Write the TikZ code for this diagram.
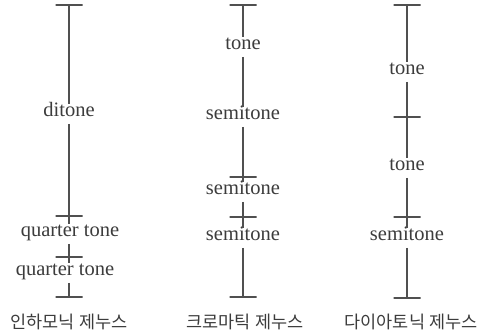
\documentclass[tikz,border=0pt]{standalone}
\usepackage{fontspec}
\setmainfont{Liberation Serif}
\newfontfamily\kofont{Noto Sans CJK KR}
\definecolor{linegray}{HTML}{505050}
\definecolor{textgray}{HTML}{3C3C3C}
\begin{document}
\begin{tikzpicture}[x=1pt,y=-1pt,
  tickmark/.style={draw=linegray,line width=2.2pt,rectangle,minimum width=27pt,minimum height=0pt,inner sep=0pt,outer sep=0pt},
  lab/.style={text=textgray,font=\fontsize{20.5}{20.5}\selectfont,inner sep=0pt,outer ysep=3pt,text height=9.5pt,text depth=4pt},
  genus/.style={text=textgray,font=\kofont\fontsize{17.5}{17.5}\selectfont,inner sep=0pt},
  seg/.style={draw=linegray,line width=2.2pt}]
\useasboundingbox (0,0) rectangle (485,333);
% enharmonic
\node[tickmark] (a0) at (69,5) {};
\node[tickmark] (a1) at (69,216) {};
\node[tickmark] (a2) at (69,257) {};
\node[tickmark] (a3) at (69,297) {};
\node[lab] (la1) at (69,114) {ditone};
\node[lab] (la2) at (70,234) {quarter tone};
\node[lab] (la3) at (65,273) {quarter tone};
\draw[seg] (a0) -- (a0 |- la1.north) (a1 |- la1.south) -- (a1);
\draw[seg] (a1) -- (a1 |- la2.north) (a2 |- la2.south) -- (a2);
\draw[seg] (a2) -- (a2 |- la3.north) (a3 |- la3.south) -- (a3);
\node[genus] (ga) at (69,322) {인하모닉 제누스};
% chromatic
\node[tickmark] (b0) at (243,5) {};
\node[tickmark] (b1) at (243,177) {};
\node[tickmark] (b2) at (243,217) {};
\node[tickmark] (b3) at (243,297) {};
\node[lab] (lb0) at (243,47) {tone};
\node[lab] (lb1) at (243,117) {semitone};
\node[lab] (lb2) at (243,192) {semitone};
\node[lab] (lb3) at (243,238) {semitone};
\draw[seg] (b0) -- (lb0.north) (lb0.south) -- (lb1.north) (lb1.south) -- (b1);
\draw[seg] (b1) -- (lb2.north) (lb2.south) -- (b2);
\draw[seg] (b2) -- (lb3.north) (lb3.south) -- (b3);
\node[genus] (gb) at (245,322) {크로마틱 제누스};
% diatonic
\node[tickmark] (c0) at (407,5) {};
\node[tickmark] (c1) at (407,117) {};
\node[tickmark] (c2) at (407,217) {};
\node[tickmark] (c3) at (407,298) {};
\node[lab] (lc0) at (407,72) {tone};
\node[lab] (lc1) at (407,168) {tone};
\node[lab] (lc2) at (407,238) {semitone};
\draw[seg] (c0) -- (lc0.north) (lc0.south) -- (c1);
\draw[seg] (c1) -- (lc1.north) (lc1.south) -- (c2);
\draw[seg] (c2) -- (lc2.north) (lc2.south) -- (c3);
\node[genus] (gc) at (411,322) {다이아토닉 제누스};
\end{tikzpicture}
\end{document}
